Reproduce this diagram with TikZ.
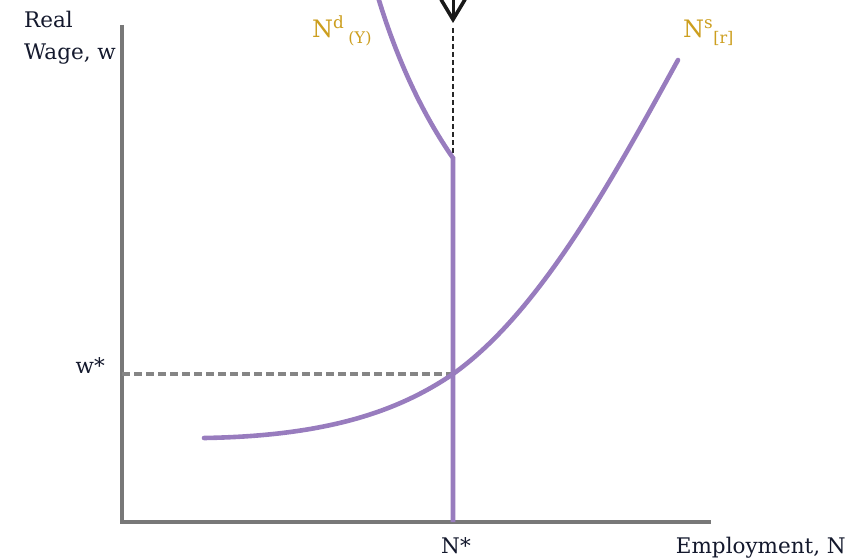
\documentclass[tikz,border=0pt]{standalone}
\usepackage{fontspec}
\setmainfont{DejaVu Serif}
\usetikzlibrary{arrows.meta}
\definecolor{curvepurple}{RGB}{152,124,190}
\definecolor{axisgray}{RGB}{120,120,120}
\definecolor{labelgold}{RGB}{204,158,30}
\definecolor{labeldark}{RGB}{20,25,45}
\tikzset{
  axisline/.style={draw=axisgray,line width=4pt},
  curveline/.style={draw=curvepurple,line width=4.6pt},
  guidegray/.style={draw=axisgray!90,line width=3.2pt,dash pattern=on 8pt off 4pt},
  guideblack/.style={draw=black!85,line width=2.6pt,dash pattern=on 5pt off 3pt},
  darklabel/.style={text=labeldark,font=\fontsize{21.5}{25}\selectfont,inner sep=0pt},
  goldlabel/.style={text=labelgold,font=\fontsize{24}{27}\selectfont,inner sep=0pt}
}
\begin{document}
\begin{tikzpicture}[x=1pt,y=-1pt]
\useasboundingbox (0,0) rectangle (864,559);
% coordinates
\coordinate (ytop) at (122,25);
\coordinate (origin) at (122,522);
\coordinate (xend) at (711,522);
\coordinate (nstar) at (453,522);
\coordinate (kink) at (453,158);
\coordinate (eq) at (453,374);
\coordinate (wy) at (122,374);
\coordinate (ndtop) at (378,-3);
\coordinate (nslow) at (204,438);
\coordinate (nshigh) at (678,60);
\coordinate (arrtop) at (453,-3);
\coordinate (arrtip) at (453,23);
\coordinate (dashtop) at (453,28);
% axes
\draw[axisline] (ytop) -- (origin) -- (xend);
% guides
\draw[guidegray] (wy) -- (eq);
\draw[guideblack] (dashtop) -- (kink);
\draw[black!90,line width=3pt,-{Straight Barb[length=20pt,width=24pt,line width=3.6pt]}] (arrtop) -- (arrtip);
% curves
\draw[curveline] (ndtop) .. controls (397,60) and (423,115) .. (kink) -- (nstar);
\draw[curveline,line cap=round] (nslow) .. controls (330,436) and (400,410) .. (eq) .. controls (540,312) and (612,180) .. (nshigh);
% labels
\node[darklabel,anchor=base west] (ylab1) at (24,28) {Real};
\node[darklabel,anchor=base west] (ylab2) at (24,60) {Wage, w};
\node[darklabel,anchor=base east] (wlab) at (105,373) {w*};
\node[darklabel,anchor=base] (nlab) at (456,553) {N*};
\node[darklabel,anchor=base east] (xlab) at (846,553) {Employment, N};
\node[goldlabel,anchor=base west] (ndlab) at (312,38) {N\textsuperscript{d}\,\raisebox{-0.45ex}{\fontsize{16}{18}\selectfont (Y)}};
\node[goldlabel,anchor=base west] (nslab) at (683,38) {N\textsuperscript{s}\raisebox{-0.45ex}{\fontsize{16}{18}\selectfont [r]}};
\end{tikzpicture}
\end{document}
